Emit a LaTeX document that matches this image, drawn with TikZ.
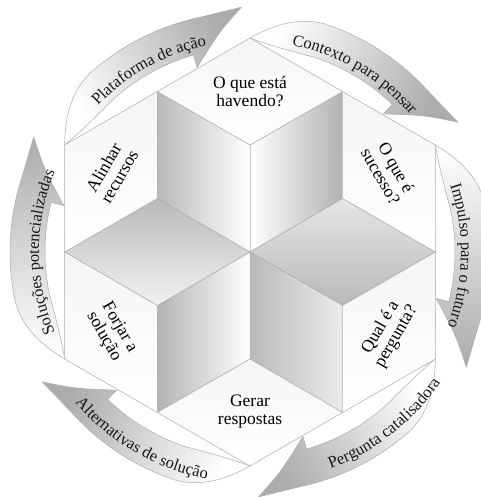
\documentclass[tikz,border=0pt]{standalone}
\usepackage{fontspec}
\setmainfont{Liberation Serif}
\usetikzlibrary{decorations.text}

\newcommand{\bandfont}{\fontsize{16.5}{16.5}\selectfont}

\tikzset{
  rim/.style={draw=gray!65, line width=0.5pt},
  panel/.style={rim, top color=gray!8, bottom color=white},
  facetext/.style={font=\fontsize{17.5}{18}\selectfont, align=center, text=black},
  bandtext/.style={decorate, decoration={text along path, text align=center, text color=black!90}},
  arrowbody/.style={rim, top color=gray!65, bottom color=white, shading angle=#1},
}

\begin{document}
\begin{tikzpicture}[x=1pt, y=1pt]
  \useasboundingbox (-250,-245) rectangle (230,252);

  % corners, inner points and edge midpoints of the hexagon
  \coordinate (O) at (0,0);
  \foreach \a [count=\i] in {90,30,-30,-90,-150,150} {
    \coordinate (V\i) at (\a:214);
    \coordinate (P\i) at (\a:107);
    \coordinate (M\i) at ({\a-30}:185.3);
  }

  % curved arrows round the hexagon, tip on the outer edge
  \foreach \a in {150,90,30,-30,-90,-150} {
    \pgfmathsetmacro{\sh}{\a-209}
    \path[arrowbody=\sh] (\a:214) .. controls ({\a-5}:226) and ({\a-11}:240) .. ({\a-18}:240)
      arc[start angle=\a-18, end angle=\a-48, radius=240]
      -- ({\a-58}:245)
      .. controls ({\a-52}:222) .. ({\a-44}:192)
      -- ({\a-44}:205)
      arc[start angle=\a-44, end angle=\a-18, radius=205]
      .. controls ({\a-11}:205) and ({\a-5}:208) .. cycle;
  }

  % texts along the arrows
  \path[bandtext, decoration={text={|\bandfont|Plataforma de ação}}] (144:211) arc[start angle=144, end angle=94, radius=211];
  \path[bandtext, decoration={text={|\bandfont|Contexto para pensar}}] (86:211) arc[start angle=86, end angle=33, radius=211];
  \path[bandtext, decoration={text={|\bandfont|Impulso para o futuro}}] (26:211) arc[start angle=26, end angle=-28, radius=211];
  \path[bandtext, decoration={text={|\bandfont|Pergunta catalisadora}}] (-80:231) arc[start angle=-80, end angle=-24, radius=231];
  \path[bandtext, decoration={text={|\bandfont|Alternativas de solução}}] (210:231) arc[start angle=210, end angle=270, radius=231];
  \path[bandtext, decoration={text={|\bandfont|Soluções potencializadas}}] (209:211) arc[start angle=209, end angle=151, radius=211];

  % inner shaded faces
  \path[rim, left color=white, right color=gray!60] (O) -- (P1) -- (M1) -- (P2) -- cycle;
  \path[rim, top color=gray!20, bottom color=gray!55] (O) -- (P2) -- (M2) -- (P3) -- cycle;
  \path[rim, left color=gray!55, right color=gray!15] (O) -- (P3) -- (M3) -- (P4) -- cycle;
  \path[rim, left color=gray!60, right color=white] (O) -- (P4) -- (M4) -- (P5) -- cycle;
  \path[rim, top color=gray!55, bottom color=gray!10] (O) -- (P5) -- (M5) -- (P6) -- cycle;
  \path[rim, left color=gray!55, right color=white] (O) -- (P6) -- (M6) -- (P1) -- cycle;

  % outer faces with the labels
  \path[panel] (M6) -- (V1) -- (M1) -- (P1) -- cycle;
  \path[panel] (M1) -- (V2) -- (M2) -- (P2) -- cycle;
  \path[panel] (M2) -- (V3) -- (M3) -- (P3) -- cycle;
  \path[panel] (M3) -- (V4) -- (M4) -- (P4) -- cycle;
  \path[panel] (M4) -- (V5) -- (M5) -- (P5) -- cycle;
  \path[panel] (M5) -- (V6) -- (M6) -- (P6) -- cycle;

  \node[facetext] (havendo) at (90:160) {O que está\\havendo?};
  \node[facetext, rotate=-60] (sucesso) at (30:160) {O que é\\sucesso?};
  \node[facetext, rotate=60] (pergunta) at (-30:160) {Qual é a\\pergunta?};
  \node[facetext] (respostas) at (-90:160) {Gerar\\respostas};
  \node[facetext, rotate=-60] (solucao) at (-150:160) {Forjar a\\solução};
  \node[facetext, rotate=60] (recursos) at (150:160) {Alinhar\\recursos};
\end{tikzpicture}
\end{document}
